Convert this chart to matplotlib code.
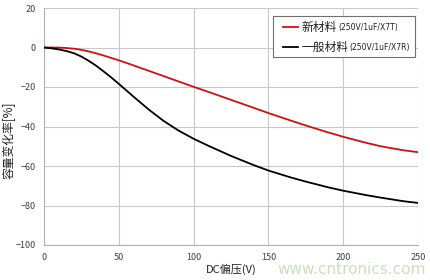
import matplotlib
matplotlib.use("Agg")
import matplotlib.pyplot as plt
from matplotlib.patches import Rectangle
from matplotlib.lines import Line2D

plt.rcParams['font.family'] = ['Noto Sans CJK SC', 'DejaVu Sans']

voltage = [0, 5, 10, 15, 20, 25, 30, 35, 40, 45, 50, 60, 70, 80, 90, 100, 110, 125, 140, 150, 165, 175, 190, 200, 215, 225, 240, 250]
new_material = [0, 0, -0.05, -0.25, -0.6, -1.2, -2.0, -3.0, -4.1, -5.3, -6.5, -9.1, -11.8, -14.5, -17.2, -19.9, -22.5, -26.5, -30.5, -33.2, -37.0, -39.5, -43.0, -45.2, -48.2, -50.0, -52.0, -53.0]
std_material = [0, -0.4, -1.0, -1.8, -2.9, -4.6, -6.8, -9.3, -12.2, -15.2, -18.4, -25.0, -31.4, -37.2, -42.1, -46.2, -49.8, -54.9, -59.5, -62.3, -65.8, -67.9, -70.8, -72.5, -74.7, -76.0, -77.8, -78.7]

label_new = "新材料"
label_new_sub = "(250V/1uF/X7T)"
label_std = "一般材料"
label_std_sub = "(250V/1uF/X7R)"
xticks = [0, 50, 100, 150, 200, 250]
yticks = [-100, -80, -60, -40, -20, 0, 20]

fig = plt.figure(figsize=(4.3, 2.8), dpi=100)
ax = fig.add_axes([44/430, 1-245/280, 374/430, 237/280])

ax.plot(voltage, new_material, color='#d01010', lw=1.3, solid_capstyle='round', zorder=3)
ax.plot(voltage, std_material, color='black', lw=1.3, solid_capstyle='round', zorder=3)

ax.set_xlim(0, 250)
ax.set_ylim(-100, 20)
ax.set_xticks(xticks)
ax.set_yticks(yticks)
ax.grid(True, color='#c8c8c8', lw=0.8)
ax.set_axisbelow(True)
for s in ['top', 'right']:
    ax.spines[s].set_visible(False)
for s in ['left', 'bottom']:
    ax.spines[s].set_color('#b0b0b0')
    ax.spines[s].set_linewidth(0.8)
ax.tick_params(length=0, labelsize=6.5, labelcolor='#404040', pad=6)

ax.set_xlabel("DC偏压(V)", fontsize=8, color='#202020', labelpad=1)
fig.text(9/430, 1-140/280, "容量变化率[%]", fontsize=8.5, color='#202020',
         rotation=90, ha='center', va='center')

# legend drawn manually
lx0, ly0, lw_, lh = 0.612, 0.793, 0.380, 0.173
ax.add_patch(Rectangle((lx0, ly0), lw_, lh, transform=ax.transAxes,
                       facecolor='white', edgecolor='#707070', lw=0.8, zorder=5))
rows = [(label_new, label_new_sub, '#d01010', 0.918), (label_std, label_std_sub, 'black', 0.835)]
for big, small, col, yy in rows:
    ax.add_line(Line2D([0.639, 0.679], [yy, yy], transform=ax.transAxes, color=col, lw=1.3, zorder=6))
    t = ax.text(0.688, yy, big, transform=ax.transAxes, fontsize=8.5, va='center', ha='left',
                color='#202020', zorder=6)
    ax.annotate(small, xy=(1, 0.5), xycoords=t, xytext=(1, 0), textcoords='offset points',
                fontsize=5.5, va='center', ha='left', color='#202020', zorder=6,
                family=['DejaVu Sans'])

fig.text(352/430, 1-269/280, "www.cntronics.com", fontsize=11, color='#c8e0bc',
         ha='center', va='center', family=['DejaVu Sans'])

fig.savefig("out.png", dpi=100)
